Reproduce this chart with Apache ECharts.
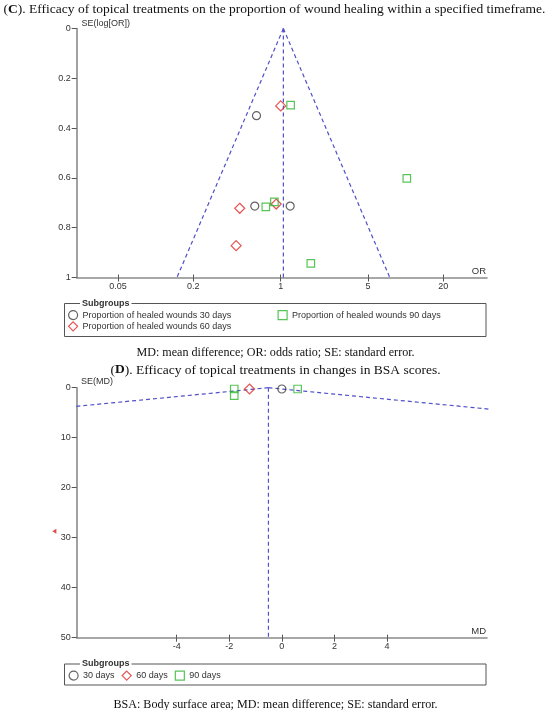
<!DOCTYPE html>
<html><head><meta charset="utf-8">
<script src="https://cdn.jsdelivr.net/npm/echarts@6/dist/echarts.min.js"></script>
<style>html,body{margin:0;padding:0;background:#fff}#c{width:550px;height:710px}</style>
</head><body><div id="c"></div>
<script>
// ---------- Panel C : OR vs SE(log[OR]) ----------
const cOrTicks = [0.05, 0.2, 1, 5, 20];
const c30OR = [0.64, 0.62, 1.19];
const c30SE = [0.350, 0.713, 0.713];
const c60OR = [1.00, 0.47, 0.92, 0.44];
const c60SE = [0.311, 0.722, 0.705, 0.872];
const c90OR = [1.20, 0.76, 0.89, 10.2, 1.74];
const c90SE = [0.308, 0.716, 0.696, 0.602, 0.943];
const cPooledOR = 1.05;

// ---------- Panel D : MD vs SE(MD) ----------
const dMdTicks = [-4, -2, 0, 2, 4];
const d30MD = [0.0];
const d30SE = [0.26];
const d60MD = [-1.23];
const d60SE = [0.26];
const d90MD = [-1.81, -1.81, 0.60];
const d90SE = [0.26, 1.6, 0.26];
const dOffMD = [-8.65];   // off-scale study (drawn as arrow)
const dOffSE = [28.7];
const dPooledMD = -0.51;

const cNames = ['Proportion of healed wounds 30 days', 'Proportion of healed wounds 60 days', 'Proportion of healed wounds 90 days'];
const dNames = ['30 days', '60 days', '90 days'];

const Z = 1.96;
const LOG10E = Math.LOG10E;
const lg = v => Math.log10(v);
const zip = (xs, ys, f) => xs.map((x, i) => [f ? f(x) : x, ys[i]]);

const COL_C = '#3c3c3c', COL_D = '#e02a2a', COL_S = '#2db52d', FUN = '#5050c8';
const SANS = '"Liberation Sans", Arial, sans-serif';
const SERIF = '"Liberation Serif", "DejaVu Serif", serif';
const TITLE_FS = 13.5, CAP_FS = 12.1;

function pts(name, data, symbol, size, color, xi, yi, extra) {
  return Object.assign({
    type: 'scatter', name, data, symbol, symbolSize: size,
    xAxisIndex: xi, yAxisIndex: yi, silent: true,
    itemStyle: { color: 'rgba(0,0,0,0)', borderColor: color, borderWidth: 1.2 },
    emphasis: { disabled: true }, z: 5
  }, extra || {});
}
function dline(data, xi, yi) {
  return { type: 'line', data, xAxisIndex: xi, yAxisIndex: yi, symbol: 'none', silent: true,
    lineStyle: { color: FUN, width: 1.2, type: [4, 3] }, z: 3, clip: true };
}

const axLine = { show: true, onZero: false, lineStyle: { color: '#8a8a8a', width: 1.6 } };
const lbl = { color: '#333', fontSize: 9, fontFamily: SANS };
const legItem = { borderWidth: 1.2 };

const cLp = lg(cPooledOR);
const cHalf = Z * LOG10E;

const chart = echarts.init(document.getElementById('c'), null, { renderer: 'canvas' });
chart.setOption({
  animation: false,
  backgroundColor: '#fff',
  grid: [
    { left: 76.7, top: 28.5, width: 410.3, height: 249 },
    { left: 76.7, top: 387.7, width: 410.3, height: 250 }
  ],
  xAxis: [
    { gridIndex: 0, type: 'value', min: -1.632, max: 1.650, position: 'bottom',
      axisLine: axLine, splitLine: { show: false },
      axisTick: { show: true, customValues: cOrTicks.map(lg), length: 4, lineStyle: { color: '#555', width: 1 } },
      axisLabel: Object.assign({ customValues: cOrTicks.map(lg), margin: 5,
        formatter: v => String(parseFloat(Math.pow(10, v).toPrecision(2))) }, lbl) },
    { gridIndex: 0, type: 'value', min: -1.632, max: 1.650, position: 'bottom',
      axisLine: { show: false, onZero: false }, splitLine: { show: false }, axisLabel: { show: false },
      axisTick: { show: true, inside: true, customValues: cOrTicks.map(lg), length: 3, lineStyle: { color: '#555', width: 1 } } },
    { gridIndex: 1, type: 'value', min: -7.8, max: 7.8, position: 'bottom',
      axisLine: axLine, splitLine: { show: false },
      axisTick: { show: true, customValues: dMdTicks, length: 4, lineStyle: { color: '#555', width: 1 } },
      axisLabel: Object.assign({ customValues: dMdTicks, margin: 4 }, lbl) },
    { gridIndex: 1, type: 'value', min: -7.8, max: 7.8, position: 'bottom',
      axisLine: { show: false, onZero: false }, splitLine: { show: false }, axisLabel: { show: false },
      axisTick: { show: true, inside: true, customValues: dMdTicks, length: 3, lineStyle: { color: '#555', width: 1 } } }
  ],
  yAxis: [
    { gridIndex: 0, type: 'value', inverse: true, min: 0, max: 1, interval: 0.2,
      axisLine: axLine, splitLine: { show: false },
      axisTick: { show: true, length: 5, lineStyle: { color: '#555', width: 1 } },
      axisLabel: Object.assign({ margin: 6 }, lbl) },
    { gridIndex: 1, type: 'value', inverse: true, min: 0, max: 50, interval: 10,
      axisLine: axLine, splitLine: { show: false },
      axisTick: { show: true, length: 5, lineStyle: { color: '#555', width: 1 } },
      axisLabel: Object.assign({ margin: 6 }, lbl) }
  ],
  legend: [
    { data: cNames.slice(0, 2), orient: 'vertical', left: 68, top: 310, itemWidth: 9, itemHeight: 9,
      itemGap: 1, itemTextGap: 5, selectedMode: false, padding: 0, textStyle: lbl, itemStyle: legItem },
    { data: cNames.slice(2), orient: 'vertical', left: 277.5, top: 310, itemWidth: 9, itemHeight: 9,
      itemGap: 1, itemTextGap: 5, selectedMode: false, padding: 0, textStyle: lbl, itemStyle: legItem },
    { data: dNames, orient: 'horizontal', left: 68.5, top: 670.5, itemWidth: 9, itemHeight: 9,
      itemGap: 7, itemTextGap: 4, selectedMode: false, padding: 0, textStyle: lbl, itemStyle: legItem }
  ],
  series: [
    dline([[cLp, 0], [cLp, 1]], 0, 0),
    dline([[cLp, 0], [cLp - cHalf, 1]], 0, 0),
    dline([[cLp, 0], [cLp + cHalf, 1]], 0, 0),
    pts(cNames[0], zip(c30OR, c30SE, lg), 'circle', 8, COL_C, 0, 0),
    pts(cNames[1], zip(c60OR, c60SE, lg), 'diamond', 10, COL_D, 0, 0),
    pts(cNames[2], zip(c90OR, c90SE, lg), 'rect', 7.5, COL_S, 0, 0),

    dline([[dPooledMD, 0], [dPooledMD, 50]], 2, 1),
    dline([[dPooledMD, 0], [dPooledMD - Z * 50, 50]], 2, 1),
    dline([[dPooledMD, 0], [dPooledMD + Z * 50, 50]], 2, 1),
    pts(dNames[0], zip(d30MD, d30SE), 'circle', 8, COL_C, 2, 1),
    pts(dNames[1], zip(d60MD, d60SE), 'diamond', 10, COL_D, 2, 1),
    pts(dNames[2], zip(d90MD, d90SE), 'rect', 7.5, COL_S, 2, 1),
    { type: 'scatter', data: zip(dOffMD, dOffSE), xAxisIndex: 2, yAxisIndex: 1, symbol: 'triangle',
      symbolSize: [5, 4], symbolRotate: 90, clip: false, silent: true, emphasis: { disabled: true },
      itemStyle: { color: '#d81e1e' } }
  ],
  graphic: [
    { type: 'text', x: 274.5, y: 9.5, style: {
        text: '{n|(}{b|C}{n|). Efficacy of topical treatments on the proportion of wound healing within a specified timeframe.}',
        rich: { n: { fontSize: TITLE_FS, fontFamily: SERIF, fill: '#111' }, b: { fontSize: TITLE_FS, fontFamily: SERIF, fontWeight: 'bold', fill: '#111' } },
        align: 'center', verticalAlign: 'middle' } },
    { type: 'text', x: 81.5, y: 23.5, style: { text: 'SE(log[OR])', fontSize: 9, fontFamily: SANS, fill: '#333', verticalAlign: 'middle' } },
    { type: 'text', x: 486, y: 271, style: { text: 'OR', fontSize: 9.5, fontFamily: SANS, fill: '#333', align: 'right', verticalAlign: 'middle' } },
    { type: 'rect', shape: { x: 64.5, y: 303.5, width: 421.5, height: 33 }, style: { fill: 'none', stroke: '#555', lineWidth: 1 } },
    { type: 'text', x: 80, y: 303.5, z: 10, style: { text: 'Subgroups', fontSize: 9, fontWeight: 'bold', fontFamily: SANS, fill: '#333',
        verticalAlign: 'middle', backgroundColor: '#fff', padding: [0, 2] } },
    { type: 'text', x: 275.5, y: 352.5, style: { text: 'MD: mean difference; OR: odds ratio; SE: standard error.',
        fontSize: CAP_FS, fontFamily: SERIF, fill: '#111', align: 'center', verticalAlign: 'middle' } },

    { type: 'text', x: 275.5, y: 370, style: {
        text: '{n|(}{b|D}{n|). Efficacy of topical treatments in changes in BSA scores.}',
        rich: { n: { fontSize: TITLE_FS, fontFamily: SERIF, fill: '#111' }, b: { fontSize: TITLE_FS, fontFamily: SERIF, fontWeight: 'bold', fill: '#111' } },
        align: 'center', verticalAlign: 'middle' } },
    { type: 'text', x: 81, y: 382, style: { text: 'SE(MD)', fontSize: 9, fontFamily: SANS, fill: '#333', verticalAlign: 'middle' } },
    { type: 'text', x: 486, y: 631.5, style: { text: 'MD', fontSize: 9.5, fontFamily: SANS, fill: '#333', align: 'right', verticalAlign: 'middle' } },
    { type: 'rect', shape: { x: 64.5, y: 664, width: 421.5, height: 21 }, style: { fill: 'none', stroke: '#555', lineWidth: 1 } },
    { type: 'text', x: 80, y: 664, z: 10, style: { text: 'Subgroups', fontSize: 9, fontWeight: 'bold', fontFamily: SANS, fill: '#333',
        verticalAlign: 'middle', backgroundColor: '#fff', padding: [0, 2] } },
    { type: 'text', x: 275.5, y: 705, style: { text: 'BSA: Body surface area; MD: mean difference; SE: standard error.',
        fontSize: CAP_FS, fontFamily: SERIF, fill: '#111', align: 'center', verticalAlign: 'middle' } }
  ]
});
</script></body></html>
